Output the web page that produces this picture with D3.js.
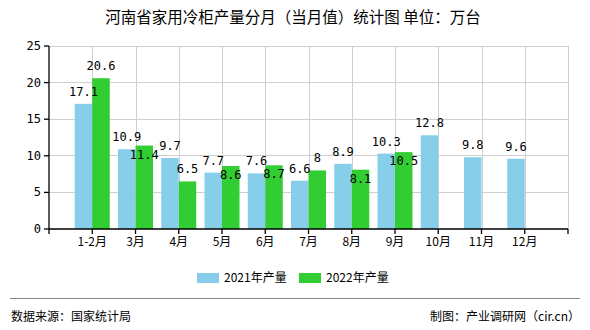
<!DOCTYPE html>
<html><head><meta charset="utf-8">
<script src="https://cdn.jsdelivr.net/npm/d3@7/dist/d3.min.js"></script>
<style>body{margin:0;background:#fff}svg{display:block}</style>
</head><body><svg id="c" width="590" height="330"></svg>
<script>
const title = "河南省家用冷柜产量分月（当月值）统计图 单位：万台";
const categories = ["1-2月","3月","4月","5月","6月","7月","8月","9月","10月","11月","12月"];
const series2021 = [17.1,10.9,9.7,7.7,7.6,6.6,8.9,10.3,12.8,9.8,9.6];
const series2022 = [20.6,11.4,6.5,8.6,8.7,8,8.1,10.5,null,null,null];
const seriesNames = ["2021年产量","2022年产量"];
const yTicks = [0,5,10,15,20,25];
const colors = ["#87CEEB","#32CD32"];
const sourceText = "数据来源：国家统计局";
const creditText = "制图：产业调研网（cir.cn）";

const svg = d3.select("#c");
const L=49, R=568, T=46, B=229;
const step=(R-L)/12;
const x = d3.scalePoint().domain(categories).range([L+step, R-step]);
const y = d3.scaleLinear().domain([0,25]).range([B,T]);
const bw = 17.5;
const cjk = "'Noto Sans CJK SC', sans-serif";
const mono = "'DejaVu Sans Mono', monospace";

svg.append("text").attr("x",293).attr("y",23).attr("text-anchor","middle")
  .attr("font-family",cjk).attr("font-size",15.5).attr("fill","#000").text(title);

// grid
const g = svg.append("g");
g.selectAll(".hg").data(yTicks.filter(d=>d>0)).enter().append("line")
  .attr("x1",L).attr("x2",R).attr("y1",d=>y(d)).attr("y2",d=>y(d))
  .attr("stroke","#cfcfcf").attr("stroke-width",1).attr("shape-rendering","crispEdges");
g.selectAll(".vg").data(categories).enter().append("line")
  .attr("x1",d=>Math.round(x(d))+0.5).attr("x2",d=>Math.round(x(d))+0.5).attr("y1",T).attr("y2",B)
  .attr("stroke","#cfcfcf");
g.append("line").attr("x1",R+0.5).attr("x2",R+0.5).attr("y1",T).attr("y2",B).attr("stroke","#cfcfcf");

// bars
const bars = svg.append("g");
bars.selectAll(".b1").data(series2021).enter().append("rect")
  .attr("x",(d,i)=>x(categories[i])-bw).attr("width",bw)
  .attr("y",d=>y(d)).attr("height",d=>B-y(d)).attr("fill",colors[0]);
bars.selectAll(".b2").data(series2022).enter().filter(d=>d!=null).append("rect")
  .attr("x",(d,i)=>x(categories[i])).attr("width",bw)
  .attr("y",d=>y(d)).attr("height",d=>B-y(d)).attr("fill",colors[1]);

// axes
const ax = svg.append("g").attr("stroke","#000").attr("stroke-width",1.3);
ax.append("line").attr("x1",L).attr("x2",L).attr("y1",T).attr("y2",B);
ax.append("line").attr("x1",L).attr("x2",R).attr("y1",B).attr("y2",B);
ax.selectAll(".yt").data(yTicks).enter().append("line")
  .attr("x1",L-5).attr("x2",L).attr("y1",d=>y(d)).attr("y2",d=>y(d));
const xt=[L,...categories.map(c=>x(c)),R];
ax.selectAll(".xt").data(xt).enter().append("line")
  .attr("x1",d=>d).attr("x2",d=>d).attr("y1",B).attr("y2",B+5);

svg.selectAll(".yl").data(yTicks).enter().append("text")
  .attr("x",L-8).attr("y",d=>y(d)+4).attr("text-anchor","end")
  .attr("font-family",mono).attr("font-size",12).attr("fill","#000").text(d=>d);
svg.selectAll(".xl").data(categories).enter().append("text")
  .attr("x",d=>x(d)).attr("y",B+17).attr("text-anchor","middle")
  .attr("font-family",cjk).attr("font-size",12).attr("fill","#000").text(d=>d);

// value labels
const lab = svg.append("g").attr("font-family",mono).attr("font-size",12).attr("fill","#000").attr("text-anchor","middle");
lab.selectAll(".l1").data(series2021).enter().append("text")
  .attr("x",(d,i)=>x(categories[i])-bw/2).attr("y",d=>y(d)-8).text(d=>d);
lab.selectAll(".l2").data(series2022).enter().filter(d=>d!=null).append("text")
  .attr("x",(d,i)=>x(categories[i])+bw/2)
  .attr("y",(d,i)=>{const diff=Math.abs(y(d)-y(series2021[i]));return diff<9? y(d)+13 : y(d)-8;})
  .text(d=>d);

// legend
const lg = svg.append("g").attr("font-family",cjk).attr("font-size",12).attr("fill","#000");
[[197,224],[299,326]].forEach((p,i)=>{
  lg.append("rect").attr("x",p[0]).attr("y",273).attr("width",22).attr("height",10).attr("fill",colors[i]);
  lg.append("text").attr("x",p[1]).attr("y",282).text(seriesNames[i]);
});

// footer
svg.append("line").attr("x1",10).attr("x2",580).attr("y1",298.5).attr("y2",298.5).attr("stroke","#888").attr("stroke-width",1);
svg.append("text").attr("x",11).attr("y",321).attr("font-family",cjk).attr("font-size",12).attr("fill","#000").text(sourceText);
svg.append("text").attr("x",580).attr("y",321).attr("text-anchor","end").attr("font-family",cjk).attr("font-size",12).attr("fill","#000").text(creditText);
</script></body></html>
